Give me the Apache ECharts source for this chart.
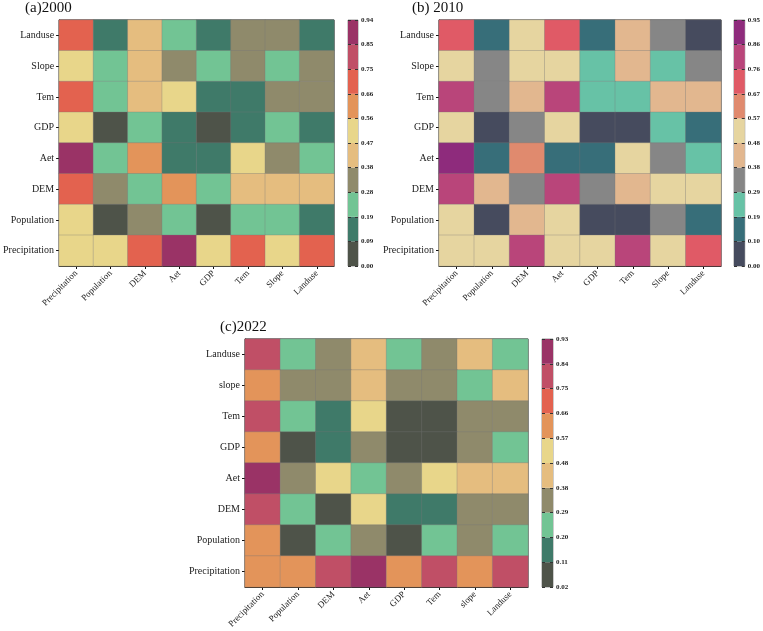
<!DOCTYPE html>
<html>
<head>
<meta charset="utf-8">
<script src="https://cdn.jsdelivr.net/npm/echarts@6/dist/echarts.min.js"></script>
<style>
  html, body { margin: 0; padding: 0; background: #fff; }
  #main { width: 763px; height: 631px; }
</style>
</head>
<body>
<div id="main"></div>
<script>
// factor names, y axis goes bottom -> top
var catsAB = ['Precipitation', 'Population', 'DEM', 'Aet', 'GDP', 'Tem', 'Slope', 'Landuse'];
var catsC = ['Precipitation', 'Population', 'DEM', 'Aet', 'GDP', 'Tem', 'slope', 'Landuse'];

// matrices written top row (Landuse) first, columns Precipitation..Landuse
var vals2000 = [
    [0.71, 0.13, 0.43, 0.24, 0.15, 0.33, 0.34, 0.14],
    [0.52, 0.23, 0.42, 0.32, 0.25, 0.33, 0.23, 0.34],
    [0.70, 0.22, 0.43, 0.51, 0.14, 0.13, 0.32, 0.33],
    [0.51, 0.04, 0.24, 0.15, 0.06, 0.13, 0.24, 0.14],
    [0.94, 0.23, 0.62, 0.13, 0.14, 0.52, 0.33, 0.24],
    [0.71, 0.34, 0.23, 0.61, 0.24, 0.42, 0.43, 0.44],
    [0.50, 0.05, 0.33, 0.22, 0.04, 0.23, 0.24, 0.13],
    [0.52, 0.51, 0.72, 0.91, 0.50, 0.70, 0.52, 0.71]
];
var vals2010 = [
    [0.72, 0.14, 0.52, 0.71, 0.15, 0.43, 0.33, 0.05],
    [0.53, 0.34, 0.52, 0.51, 0.24, 0.44, 0.23, 0.33],
    [0.80, 0.33, 0.43, 0.81, 0.24, 0.25, 0.42, 0.43],
    [0.52, 0.06, 0.34, 0.53, 0.04, 0.05, 0.24, 0.15],
    [0.95, 0.14, 0.62, 0.15, 0.14, 0.52, 0.33, 0.24],
    [0.81, 0.43, 0.33, 0.82, 0.34, 0.43, 0.52, 0.51],
    [0.52, 0.05, 0.44, 0.51, 0.04, 0.06, 0.33, 0.15],
    [0.53, 0.52, 0.80, 0.51, 0.52, 0.81, 0.52, 0.72]
];
var vals2022 = [
    [0.80, 0.25, 0.34, 0.43, 0.24, 0.33, 0.44, 0.25],
    [0.62, 0.34, 0.33, 0.43, 0.34, 0.33, 0.24, 0.43],
    [0.79, 0.24, 0.15, 0.52, 0.06, 0.05, 0.34, 0.33],
    [0.61, 0.05, 0.16, 0.34, 0.06, 0.05, 0.33, 0.25],
    [0.93, 0.33, 0.52, 0.24, 0.34, 0.53, 0.43, 0.42],
    [0.80, 0.24, 0.06, 0.52, 0.15, 0.14, 0.34, 0.33],
    [0.62, 0.05, 0.24, 0.34, 0.06, 0.25, 0.33, 0.24],
    [0.61, 0.62, 0.80, 0.90, 0.62, 0.79, 0.61, 0.81]
];

// colour bar tick labels (bin edges)
var ticks2000 = ['0.00', '0.09', '0.19', '0.28', '0.38', '0.47', '0.56', '0.66', '0.75', '0.85', '0.94'];
var ticks2010 = ['0.00', '0.10', '0.19', '0.29', '0.38', '0.48', '0.57', '0.67', '0.76', '0.86', '0.95'];
var ticks2022 = ['0.02', '0.11', '0.20', '0.29', '0.38', '0.48', '0.57', '0.66', '0.75', '0.84', '0.93'];

var colorsAC = ['#4e5349', '#3f7a69', '#72c494', '#8f8a6b', '#e5bd7f', '#e8d68a', '#e3945a', '#e3624f', '#c04f66', '#9a3366'];
var colorsB = ['#464b5e', '#376e79', '#67c2a6', '#868686', '#e2b78f', '#e6d5a0', '#e08a6e', '#e05a66', '#b9457a', '#8e2b7c'];

var FONT = 'Liberation Serif';

var panels = [
    {title: '(a)2000', cats: catsAB, vals: vals2000, ticks: ticks2000, colors: colorsAC,
        grid: {left: 51, top: 20, width: 283, height: 246}, bar: {left: 348, top: 20, width: 10, height: 246}, tx: 25, ty: 1},
    {title: '(b) 2010', cats: catsAB, vals: vals2010, ticks: ticks2010, colors: colorsB,
        grid: {left: 439, top: 20, width: 282, height: 246}, bar: {left: 734, top: 20, width: 11, height: 246}, tx: 412, ty: 1},
    {title: '(c)2022', cats: catsC, vals: vals2022, ticks: ticks2022, colors: colorsAC,
        grid: {left: 245, top: 339, width: 283, height: 248}, bar: {left: 542, top: 339, width: 11, height: 248}, tx: 220, ty: 320}
];

var myChart = echarts.init(document.getElementById('main'));

var option = {
    backgroundColor: '#fff',
    animation: false,
    title: [], grid: [], xAxis: [], yAxis: [], series: [], visualMap: []
};

panels.forEach(function (p, k) {
    option.title.push({
        text: p.title, left: p.tx, top: p.ty, padding: 0,
        textStyle: {fontFamily: FONT, fontSize: 15, fontWeight: 'normal', color: '#111'}
    });

    // heat map grid
    var g = option.grid.length;
    var gx = option.xAxis.length;
    var gy = option.yAxis.length;
    option.grid.push(Object.assign({show: true, borderColor: '#111', borderWidth: 1, backgroundColor: 'transparent'}, p.grid));
    option.xAxis.push({
        type: 'category', gridIndex: g, data: p.cats,
        axisLine: {show: true, lineStyle: {color: '#111', width: 1}},
        axisTick: {show: true, alignWithLabel: true, length: 3, lineStyle: {color: '#111'}},
        axisLabel: {rotate: 45, fontFamily: FONT, fontSize: 9, color: '#222', margin: 6},
        splitLine: {show: false}
    });
    option.yAxis.push({
        type: 'category', gridIndex: g, data: p.cats,
        axisLine: {show: true, lineStyle: {color: '#111', width: 1}},
        axisTick: {show: true, alignWithLabel: true, length: 3, lineStyle: {color: '#111'}},
        axisLabel: {fontFamily: FONT, fontSize: 10, color: '#222', margin: 5},
        splitLine: {show: false}
    });

    var data = [];
    for (var r = 0; r < p.vals.length; r++) {
        for (var c = 0; c < p.vals[r].length; c++) {
            data.push([c, p.vals.length - 1 - r, p.vals[r][c]]);
        }
    }
    var sIdx = option.series.length;
    option.series.push({
        type: 'heatmap', xAxisIndex: gx, yAxisIndex: gy, data: data,
        itemStyle: {borderColor: 'rgba(120,120,120,0.55)', borderWidth: 0.6},
        label: {show: false}
    });

    var pieces = [];
    for (var i = 0; i < p.colors.length; i++) {
        pieces.push({gte: parseFloat(p.ticks[i]) - (i === 0 ? 1 : 0), lt: parseFloat(p.ticks[i + 1]) + (i === p.colors.length - 1 ? 1 : 0), color: p.colors[i]});
    }
    option.visualMap.push({type: 'piecewise', show: false, seriesIndex: sIdx, dimension: 2, pieces: pieces});

    // colour bar grid: stacked bins with edge labels
    var b = option.grid.length;
    var bx = option.xAxis.length;
    var by = option.yAxis.length;
    option.grid.push(Object.assign({show: true, borderColor: '#999', borderWidth: 1, backgroundColor: 'transparent'}, p.bar));
    option.xAxis.push({
        type: 'category', gridIndex: b, data: [''],
        axisLine: {show: false}, axisTick: {show: false}, axisLabel: {show: false}
    });
    (function (ticks) {
        option.yAxis.push({
            type: 'value', gridIndex: b, min: 0, max: ticks.length - 1, interval: 1, position: 'right', z: 5,
            axisLine: {show: false},
            axisTick: {show: true, inside: true, length: 3, lineStyle: {color: '#333'}},
            axisLabel: {
                fontFamily: FONT, fontSize: 7, fontWeight: 'bold', color: '#222', margin: 3,
                formatter: function (v) { return ticks[Math.round(v)]; }
            },
            splitLine: {show: false}
        });
        // left edge ticks of the colour bar
        option.yAxis.push({
            type: 'value', gridIndex: b, min: 0, max: ticks.length - 1, interval: 1, position: 'left', z: 5,
            axisLine: {show: false},
            axisTick: {show: true, inside: true, length: 3, lineStyle: {color: '#333'}},
            axisLabel: {show: false},
            splitLine: {show: false}
        });
    })(p.ticks);
    for (var j = 0; j < p.colors.length; j++) {
        option.series.push({
            type: 'bar', xAxisIndex: bx, yAxisIndex: by, stack: 'bar' + k,
            barWidth: '100%', data: [1], silent: true, z: 1,
            itemStyle: {color: p.colors[j]}
        });
    }
});

myChart.setOption(option);
</script>
</body>
</html>
